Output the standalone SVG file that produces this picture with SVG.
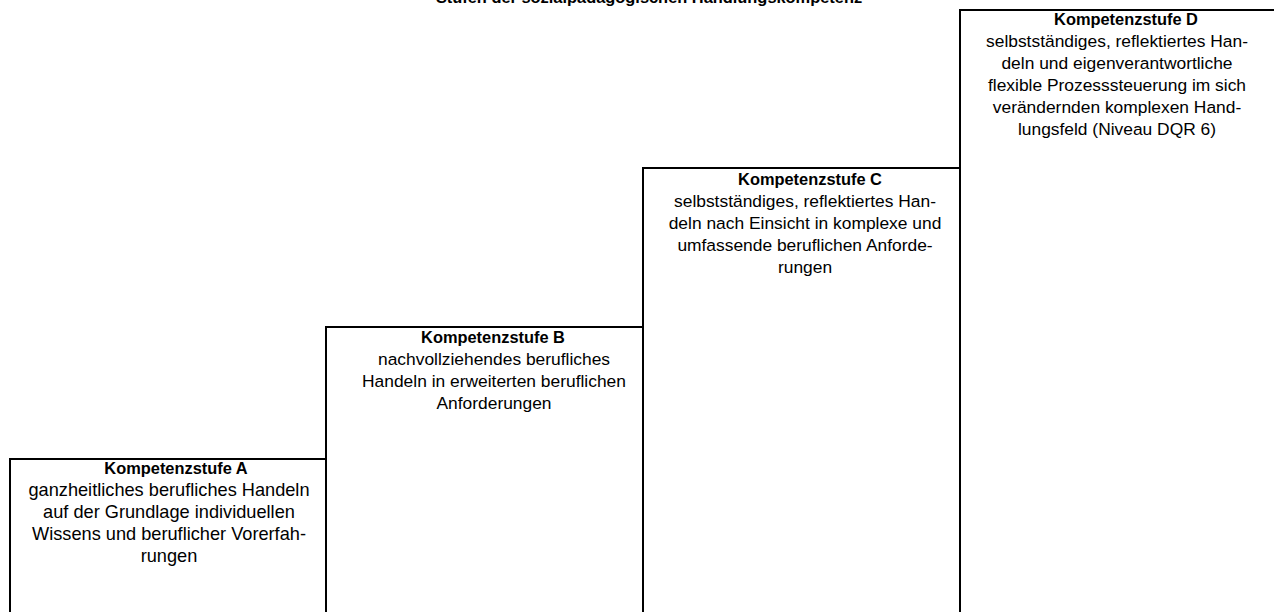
<svg xmlns="http://www.w3.org/2000/svg" width="1274" height="612" viewBox="0 0 1274 612">
<style>
.box{fill:#fff;stroke:#000;stroke-width:2}
text{font-family:"Liberation Sans",Arial,sans-serif;font-size:17.4px;fill:#000;text-anchor:middle}
.h{font-weight:bold;font-size:16.4px}
.a{font-size:18.2px}
</style>
<rect width="1274" height="612" fill="#fff"/>
<text class="h" x="649" y="3">Stufen der sozialpädagogischen Handlungskompetenz</text>
<g id="stufe-a">
<rect class="box" x="10" y="459" width="316" height="170"/>
<text class="h" x="176" y="474">Kompetenzstufe A</text>
<text class="a" x="169" y="496">ganzheitliches berufliches Handeln</text>
<text class="a" x="169" y="518">auf der Grundlage individuellen</text>
<text class="a" x="169" y="540">Wissens und beruflicher Vorerfah-</text>
<text class="a" x="169" y="562">rungen</text>
</g>
<g id="stufe-b">
<rect class="box" x="326" y="327" width="317" height="300"/>
<text class="h" x="493" y="343">Kompetenzstufe B</text>
<text x="494" y="365">nachvollziehendes berufliches</text>
<text x="494" y="387">Handeln in erweiterten beruflichen</text>
<text x="494" y="409">Anforderungen</text>
</g>
<g id="stufe-c">
<rect class="box" x="643" y="168" width="317" height="460"/>
<text class="h" x="810" y="185">Kompetenzstufe C</text>
<text x="805" y="207">selbstständiges, reflektiertes Han-</text>
<text x="805" y="229">deln nach Einsicht in komplexe und</text>
<text x="805" y="251">umfassende beruflichen Anforde-</text>
<text x="805" y="273">rungen</text>
</g>
<g id="stufe-d">
<rect class="box" x="960" y="10" width="330" height="620"/>
<text class="h" x="1126" y="25">Kompetenzstufe D</text>
<text x="1117" y="47">selbstständiges, reflektiertes Han-</text>
<text x="1117" y="69">deln und eigenverantwortliche</text>
<text x="1117" y="91">flexible Prozesssteuerung im sich</text>
<text x="1117" y="113">verändernden komplexen Hand-</text>
<text x="1117" y="135">lungsfeld (Niveau DQR 6)</text>
</g>
<g id="connectors"/>
</svg>
